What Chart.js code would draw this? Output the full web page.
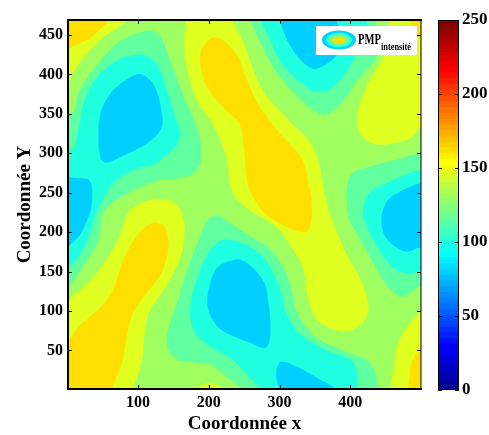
<!DOCTYPE html>
<html>
<head>
<meta charset="utf-8">
<title>PMP intensité</title>
<script src="https://cdn.jsdelivr.net/npm/chart.js@4"></script>
<style>
    html, body { margin: 0; padding: 0; background: #fff; }
    canvas { position: absolute; top: 0; }
    #fieldChart { left: 0; }
    #barChart { left: 425px; }
</style>
</head>
<body>
<canvas id="fieldChart" width="489" height="435"></canvas>
<canvas id="barChart" width="64" height="435"></canvas>
<script>
const xTicks = [100, 200, 300, 400];
const yTicks = [50, 100, 150, 200, 250, 300, 350, 400, 450];
const barTicks = [0, 50, 100, 150, 200, 250];

// contour outlines, [x, y] in data units
const yellowTopLeft = [[-10,370],[0,382],[6,398],[17,414],[45,443],[69,458],[88,470],[100,490],[-10,490]];
const yellowBottomLeft = [[-10,105],[0,113],[31,137],[59,170],[74,195],[85,223],[102,236],[130,242],[154,236],[164,218],[166,204],[161,170],[140,132],[116,99],[109,69],[106,39],[98,14],[91,0],[85,-10],[-10,-10]];
const yellowBump = [[175,-8],[183,2],[197,8],[212,6],[224,0],[232,-8]];
const yellowCentre = [[170,480],[175,470],[166,452],[168,414],[183,367],[205,338],[225,294],[232,253],[253,231],[296,206],[314,185],[333,155],[340,117],[352,90],[374,77],[396,74],[417,84],[426,105],[416,137],[396,170],[381,200],[374,217],[366,240],[357,282],[345,312],[317,338],[283,371],[265,401],[250,439],[233,468],[225,480]];
const yellowTopRight = [[465,490],[458,470],[449,443],[446,421],[425,388],[410,350],[413,326],[434,312],[458,312],[487,320],[498,332],[525,349],[525,490]];
const yellowBottomRight = [[455,-10],[460,0],[463,39],[470,65],[487,88],[498,98],[525,120],[525,-10]];

const goldTopLeft = [[-10,428],[0,434],[27,443],[45,456],[61,470],[75,490],[-10,490]];
const goldBottomLeft = [[-10,50],[0,61],[17,81],[45,103],[64,126],[78,162],[98,195],[120,212],[137,207],[143,181],[134,150],[106,115],[91,94],[83,61],[78,36],[62,0],[55,-10],[-10,-10]];
const goldCentre = [[208,447],[191,434],[188,414],[198,383],[225,354],[243,338],[250,303],[253,272],[258,253],[276,227],[300,211],[324,202],[338,200],[345,214],[345,244],[342,256],[331,294],[297,329],[269,363],[250,402],[243,420],[225,440]];
const goldTopRight = [[484,470],[490,455],[500,445],[520,440],[520,490],[480,490]];
const goldBottomRight = [[480,-10],[485,0],[485,27],[491,43],[498,49],[525,40],[525,-10]];

const seaLeft = [[-10,340],[0,326],[10,354],[17,379],[41,411],[69,439],[90,449],[106,454],[116,456],[125,453],[134,445],[144,421],[163,376],[183,333],[190,299],[183,278],[163,269],[130,266],[92,252],[64,237],[50,223],[45,192],[27,162],[0,128],[-10,118]];
const seaBottom = [[250,0],[233,20],[201,33],[183,34],[154,39],[141,56],[144,81],[154,107],[173,161],[187,193],[197,214],[211,221],[229,212],[253,198],[286,179],[304,157],[317,129],[321,107],[333,85],[352,66],[392,49],[424,37],[437,18],[437,0],[437,-10],[250,-10]];
const seaTop = [[248,490],[258,470],[279,430],[297,401],[331,367],[361,349],[382,358],[410,392],[437,421],[437,443],[437,470],[440,490]];
const seaRight = [[525,290],[498,299],[462,291],[424,282],[402,274],[395,256],[395,240],[398,217],[413,192],[432,162],[453,131],[473,118],[498,131],[525,140]];

const cyanLeft = [[-10,300],[0,291],[10,307],[17,338],[24,367],[45,400],[78,421],[106,425],[126,414],[144,371],[153,345],[160,328],[159,318],[152,308],[126,288],[92,278],[64,261],[45,231],[38,217],[31,195],[17,170],[0,154],[-10,145]];
const cyanBottom = [[275,0],[262,20],[233,39],[197,58],[177,79],[174,107],[184,142],[201,176],[219,190],[243,187],[272,173],[290,151],[303,122],[306,107],[314,90],[328,71],[369,49],[402,37],[410,18],[410,0],[410,-10],[275,-10]];
const cyanTop = [[262,490],[275,470],[289,439],[307,409],[335,386],[352,378],[375,383],[402,414],[416,443],[425,470],[430,490]];
const cyanRight = [[525,270],[498,278],[449,261],[430,252],[419,236],[419,217],[434,188],[458,157],[481,147],[498,151],[525,160]];

const blueLeftUpper = [[55,288],[47,294],[44,325],[48,354],[64,379],[92,398],[106,400],[123,386],[134,350],[133,331],[112,312],[84,299]];
const blueLeftEdge = [[-10,270],[0,265],[24,268],[31,266],[35,256],[34,231],[27,213],[17,195],[0,181],[-10,175]];
const blueCentre = [[236,165],[212,155],[201,132],[198,109],[204,91],[219,75],[258,60],[279,53],[286,62],[287,88],[284,113],[279,135],[262,155],[248,164]];
const blueBottom = [[303,36],[296,27],[296,11],[300,0],[298,-10],[385,-10],[381,0],[361,11],[328,28]];
const blueTop = [[300,470],[311,443],[328,420],[349,407],[368,414],[385,430],[385,456],[381,470],[385,490],[295,490]];
const blueRight = [[525,270],[498,262],[474,253],[453,240],[444,218],[449,195],[466,180],[481,175],[498,180],[525,175]];

// lower edges of the colour bar bands
const barLevels = [0,3.9,7.8,11.7,15.6,19.5,23.4,27.3,31.3,35.2,39.1,43,46.9,50.8,54.7,58.6,62.5,66.4,70.3,74.2,78.1,82,85.9,89.8,93.8,97.7,101.6,105.5,109.4,113.3,117.2,121.1,125,128.9,132.8,136.7,140.6,144.5,148.4,152.3,156.3,160.2,164.1,168,171.9,175.8,179.7,183.6,187.5,191.4,195.3,199.2,203.1,207,210.9,214.8,218.8,222.7,226.6,230.5,234.4,238.3,242.2,246.1];

const BASE = '#9fff60', YELLOW = '#dfff20', GOLD = '#ffdf00', SEA = '#60ff9f', CYAN = '#20ffdf', BLUE = '#00cfff';
const SERIF = "'Liberation Serif', 'Times New Roman', serif";

// painted back to front
const layers = [
    [yellowTopLeft, YELLOW], [yellowBottomLeft, YELLOW], [yellowBump, YELLOW], [yellowCentre, YELLOW], [yellowTopRight, YELLOW], [yellowBottomRight, YELLOW],
    [goldTopLeft, GOLD], [goldBottomLeft, GOLD], [goldCentre, GOLD], [goldTopRight, GOLD], [goldBottomRight, GOLD],
    [seaLeft, SEA], [seaBottom, SEA], [seaTop, SEA], [seaRight, SEA],
    [cyanLeft, CYAN], [cyanBottom, CYAN], [cyanTop, CYAN], [cyanRight, CYAN],
    [blueLeftUpper, BLUE], [blueLeftEdge, BLUE], [blueCentre, BLUE], [blueBottom, BLUE], [blueTop, BLUE], [blueRight, BLUE]
];

function jetColor(i) {
    const part = x => Math.round(255 * Math.max(0, Math.min(1, x)));
    const t = (i + 1) / 16;
    return `rgb(${part(Math.min(t - 1.5, 4.5 - t))},${part(Math.min(t - 0.5, 3.5 - t))},${part(Math.min(t + 0.5, 2.5 - t))})`;
}

const fieldPlugin = {
    id: 'fieldPlugin',
    beforeDatasetsDraw(chart) {
        const { ctx, chartArea: a } = chart;
        ctx.save();
        ctx.fillStyle = BASE;
        ctx.fillRect(a.left, a.top, a.right - a.left, a.bottom - a.top);
        ctx.restore();
    },
    afterDatasetsDraw(chart) {
        const { ctx, chartArea: a, scales } = chart;
        ctx.save();
        // inward ticks on all four sides
        ctx.strokeStyle = '#111';
        ctx.lineWidth = 1;
        ctx.beginPath();
        scales.x.ticks.forEach(t => {
            const px = Math.round(scales.x.getPixelForValue(t.value)) + 0.5;
            ctx.moveTo(px, a.top); ctx.lineTo(px, a.top + 4);
            ctx.moveTo(px, a.bottom); ctx.lineTo(px, a.bottom - 4);
        });
        scales.y.ticks.forEach(t => {
            const py = Math.round(scales.y.getPixelForValue(t.value)) + 0.5;
            ctx.moveTo(a.left, py); ctx.lineTo(a.left + 4, py);
            ctx.moveTo(a.right, py); ctx.lineTo(a.right - 4, py);
        });
        ctx.stroke();
        // frame
        ctx.fillStyle = '#000';
        ctx.fillRect(a.left - 1, a.top - 1, a.right - a.left + 2, 2);
        ctx.fillRect(a.left - 1, a.bottom - 1, a.right - a.left + 2, 2);
        ctx.fillRect(a.left - 1, a.top - 1, 2, a.bottom - a.top + 2);
        ctx.fillRect(a.right - 0.5, a.top - 1, 1, a.bottom - a.top + 2);
        // legend box
        ctx.fillStyle = '#fff';
        ctx.fillRect(316, 26, 101, 29);
        [[17, 9.5, BLUE], [13, 7.5, CYAN], [11, 6, SEA], [7, 3.5, GOLD]].forEach(r => {
            ctx.fillStyle = r[2];
            ctx.beginPath();
            ctx.ellipse(339, 40, r[0], r[1], 0, 0, Math.PI * 2);
            ctx.fill();
        });
        ctx.fillStyle = '#000';
        ctx.textBaseline = 'alphabetic';
        ctx.font = `bold 15px ${SERIF}`;
        ctx.fillText('PMP', 358, 44, 23);
        ctx.font = `bold 10px ${SERIF}`;
        ctx.fillText('intensité', 381, 50, 30);
        ctx.restore();
    }
};

new Chart(document.getElementById('fieldChart'), {
    type: 'scatter',
    data: {
        datasets: layers.slice().reverse().map(l => ({
            data: l[0].concat(l[0].slice(0, 3)),
            showLine: true,
            fill: 'shape',
            tension: 0.33,
            backgroundColor: l[1],
            borderWidth: 0,
            pointRadius: 0
        }))
    },
    options: {
        responsive: false,
        animation: false,
        layout: { padding: { top: 20, right: 68, bottom: 0, left: 0 } },
        elements: { line: { capBezierPoints: false } },
        plugins: { legend: { display: false }, tooltip: { enabled: false } },
        scales: {
            x: {
                type: 'linear', min: 1, max: 500,
                grid: { display: false, drawTicks: false }, border: { display: false },
                afterBuildTicks: s => { s.ticks = xTicks.map(value => ({ value })); },
                afterFit: s => { s.height = 46; },
                ticks: { color: '#000', font: { family: SERIF, size: 16, weight: 'bold' }, padding: 4, maxRotation: 0, autoSkip: false },
                title: { display: true, text: 'Coordonnée x', color: '#000', font: { family: SERIF, size: 19, weight: 'bold' }, padding: { top: 0, bottom: 0 } }
            },
            y: {
                type: 'linear', min: 1, max: 469,
                grid: { display: false, drawTicks: false }, border: { display: false },
                afterBuildTicks: s => { s.ticks = yTicks.map(value => ({ value })); },
                afterFit: s => { s.width = 68; },
                ticks: { color: '#000', font: { family: SERIF, size: 16, weight: 'bold' }, padding: 5, autoSkip: false },
                title: { display: true, text: 'Coordonnée Y', color: '#000', font: { family: SERIF, size: 19, weight: 'bold' }, padding: { top: 14, bottom: 0 } }
            }
        }
    },
    plugins: [fieldPlugin]
});

const barFrame = {
    id: 'barFrame',
    afterDatasetsDraw(chart) {
        const { ctx, chartArea: a, scales } = chart;
        ctx.save();
        ctx.strokeStyle = '#000';
        ctx.lineWidth = 1;
        ctx.strokeRect(a.left + 0.5, a.top + 0.5, a.right - a.left - 1, a.bottom - a.top - 1);
        ctx.beginPath();
        scales.y.ticks.forEach(t => {
            const py = Math.round(scales.y.getPixelForValue(t.value)) + 0.5;
            ctx.moveTo(a.left, py); ctx.lineTo(a.left + 4, py);
            ctx.moveTo(a.right, py); ctx.lineTo(a.right - 4, py);
        });
        ctx.stroke();
        ctx.restore();
    }
};

new Chart(document.getElementById('barChart'), {
    type: 'bar',
    data: {
        labels: ['intensité'],
        datasets: barLevels.map((lo, i) => ({
            data: [[lo, i + 1 < barLevels.length ? barLevels[i + 1] + 0.5 : 250]],
            backgroundColor: jetColor(i),
            borderWidth: 0,
            grouped: false,
            barPercentage: 1,
            categoryPercentage: 1,
            order: -i
        }))
    },
    options: {
        responsive: false,
        animation: false,
        layout: { padding: { top: 20, right: 0, bottom: 45, left: 13 } },
        plugins: { legend: { display: false }, tooltip: { enabled: false } },
        scales: {
            x: { display: false },
            y: {
                position: 'right', min: 0, max: 250,
                grid: { display: false, drawTicks: false }, border: { display: false },
                afterBuildTicks: s => { s.ticks = barTicks.map(value => ({ value })); },
                afterFit: s => { s.width = 30; },
                ticks: { color: '#000', font: { family: SERIF, size: 17, weight: 'bold' }, padding: 3, autoSkip: false }
            }
        }
    },
    plugins: [barFrame]
});
</script>
</body>
</html>
